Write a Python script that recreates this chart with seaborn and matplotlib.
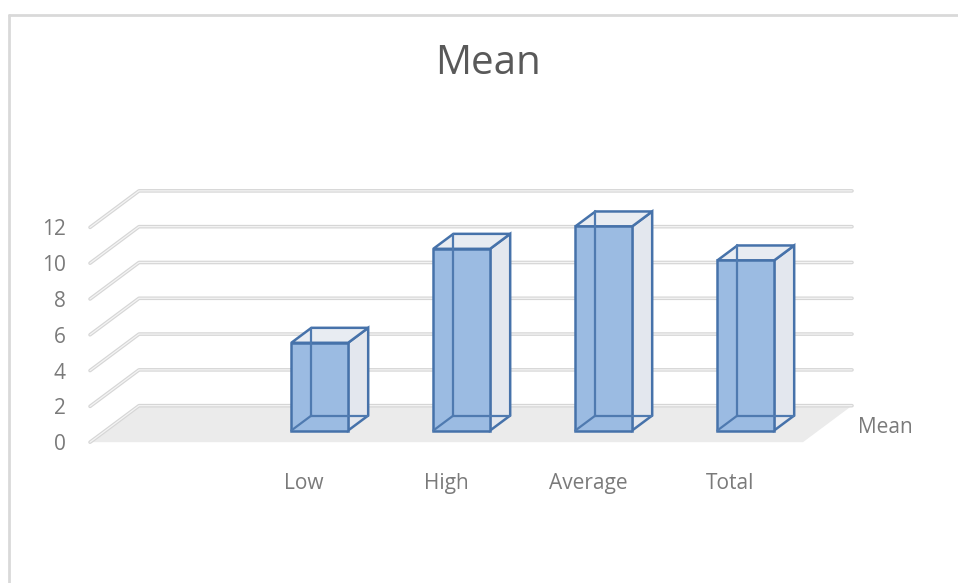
import matplotlib
matplotlib.use("Agg")
import matplotlib.pyplot as plt
from matplotlib.patches import Polygon
from matplotlib.lines import Line2D
import seaborn as sns
import pandas as pd

# data
categories = ["Low", "High", "Average", "Total"]
means = [4.9, 10.15, 11.4, 9.5]
y_ticks = [0, 2, 4, 6, 8, 10, 12]
series_name = "Mean"

sns.set_style("white")
plt.rcParams["font.family"] = ["Open Sans", "DejaVu Sans"]

# oblique projection: depth 0 = front of floor, 1 = back wall
KX, KY = 0.345, 2.04   # depth shift in data units (x, y)
D_BAR = 0.32           # depth of bar front face
BAR_DEPTH = 0.41
U_LEFT, U_RIGHT = -1.507, 3.514


def proj(u, v, d):
    return (u + (d - D_BAR) * KX, v + (d - D_BAR) * KY)


df = pd.DataFrame({"cat": categories, "val": means})

fig = plt.figure(figsize=(9.58, 5.83), dpi=100)
ax = fig.add_axes([0, 0, 1, 1])

# floor
floor = [proj(U_LEFT, 0, 0), proj(U_RIGHT, 0, 0), proj(U_RIGHT, 0, 1), proj(U_LEFT, 0, 1)]
ax.add_patch(Polygon(floor, closed=True, facecolor="#ebebeb", edgecolor="none", zorder=0.5))

# gridlines (front diagonal + back wall line)
for v in y_ticks:
    pts = [proj(U_LEFT, v, 0), proj(U_LEFT, v, 1), proj(U_RIGHT, v, 1)]
    xs, ys = zip(*pts)
    ax.plot(xs, ys, color="#d6d6d6", lw=2.6, solid_capstyle="round", zorder=1)
    ax.plot(xs, ys, color="#f4f4f4", lw=0.9, solid_capstyle="round", zorder=1.1)
    tx, ty = proj(U_LEFT - 0.17, v - 0.14, 0)
    ax.text(tx, ty, str(v), ha="right", va="center", fontsize=15, color="#7a7a7a")

# front faces
sns.barplot(data=df, x="cat", y="val", width=0.4, color="#9bbbe2", saturation=1,
            edgecolor="#4672aa", linewidth=1.8, ax=ax, zorder=3)

edge = "#4672aa"
w = 0.4
for i, h in enumerate(means):
    l, r = i - w / 2, i + w / 2
    dx, dy = BAR_DEPTH * KX, BAR_DEPTH * KY
    side = [(r, 0), (r, h), (r + dx, h + dy), (r + dx, dy)]
    top = [(l, h), (r, h), (r + dx, h + dy), (l + dx, h + dy)]
    ax.add_patch(Polygon(side, closed=True, facecolor="#e3e7ee", edgecolor=edge,
                         lw=1.8, joinstyle="miter", zorder=2))
    ax.add_patch(Polygon(top, closed=True, facecolor="#e8ecf2", edgecolor=edge,
                         lw=1.8, joinstyle="miter", zorder=2))
    # hidden edges seen through the bar
    ax.add_line(Line2D([l + dx, l + dx], [dy, h + dy], color="#4f7ab0", lw=1.6, zorder=4))
    ax.add_line(Line2D([l + dx, r + dx], [dy, dy], color="#4f7ab0", lw=1.6, zorder=4))
    ax.add_line(Line2D([l, l + dx], [0, dy], color="#4f7ab0", lw=1.6, zorder=4))
    cx, cy = proj(i, -2.3, 0)
    ax.text(cx, cy, categories[i], ha="center", va="center", fontsize=15, color="#7a7a7a")

sx, sy = proj(3.72, -0.25, 0.525)
ax.text(sx, sy, series_name, ha="left", va="center", fontsize=15, color="#7a7a7a")

ax.set_xlim(-319.7 / 142, (958 - 319.7) / 142)
ax.set_ylim((430.5 - 583) / 17.9, 430.5 / 17.9)
ax.set_axis_off()

fig.text(488 / 958, 1 - 64 / 583, "Mean", ha="center", va="center", fontsize=29, color="#595959")

# chart border
fig.add_artist(Line2D([9 / 958, 9 / 958], [0, 1 - 15 / 583], transform=fig.transFigure,
                      color="#d9d9d9", lw=2))
fig.add_artist(Line2D([9 / 958, 1], [1 - 15 / 583, 1 - 15 / 583], transform=fig.transFigure,
                      color="#d9d9d9", lw=2))

fig.savefig("out.png", dpi=100)
